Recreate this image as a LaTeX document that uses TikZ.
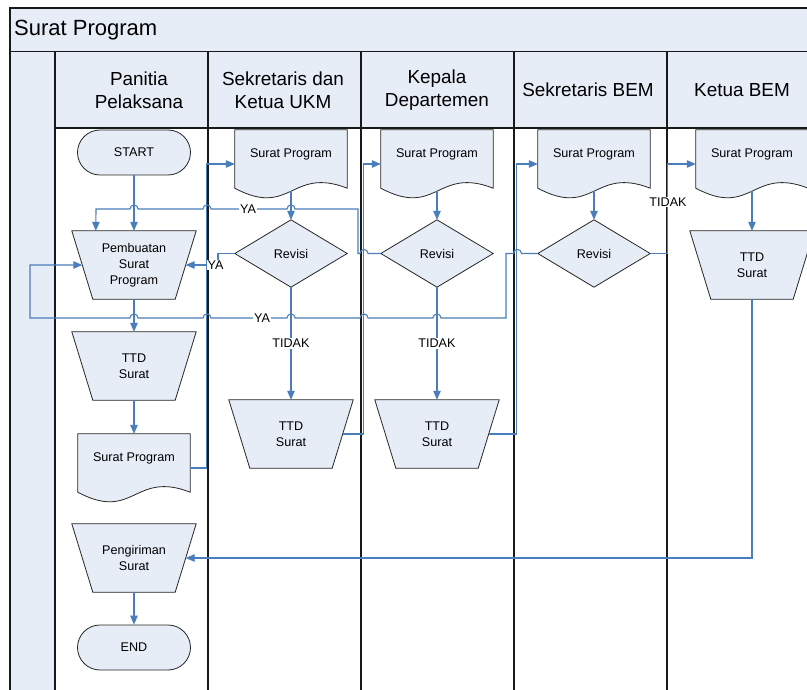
\documentclass[tikz,border=0pt]{standalone}
\usepackage{fontspec}
\setmainfont{Liberation Sans}
\usetikzlibrary{arrows.meta,calc}

\definecolor{lanefill}{HTML}{E7EDF7}
\definecolor{linkblue}{HTML}{4A7EBB}

\pgfdeclarelayer{lanes}
\pgfdeclarelayer{shapes}
\pgfsetlayers{lanes,shapes,main}

\newcommand\nodefont{\fontsize{12.6}{15.8}\selectfont}
\newcommand\headfont{\fontsize{18.9}{23}\selectfont}
\newcommand\titlefont{\fontsize{22}{26}\selectfont}

\tikzset{
  boxnode/.style={inner sep=0pt, align=center, font=\nodefont},
  trapnode/.style={boxnode, minimum width=124pt, minimum height=68pt},
  docnode/.style={boxnode, minimum width=112pt, minimum height=68pt},
  dianode/.style={boxnode, minimum width=112pt, minimum height=67pt},
  termnode/.style={boxnode, draw=black!85, fill=lanefill, line width=0.8pt,
    rounded corners=22.5pt, minimum width=113pt, minimum height=45pt},
  outline/.style={draw=black!85, fill=lanefill, line width=0.8pt},
  link/.style={draw=linkblue, line width=1.1pt, -{Triangle[length=9pt,width=7.5pt]}},
  tag/.style={fill=white, inner sep=1pt, font=\nodefont},
  frameline/.style={draw=black!90, line width=1.8pt},
  laneline/.style={draw=black!90, line width=1.3pt},
  headtext/.style={font=\headfont, align=center, inner sep=0pt},
}

% outlines drawn behind the node texts
\newcommand\trapshape[1]{%
  \begin{pgfonlayer}{shapes}
    \path[outline] (#1.north west) -- (#1.north east)
      -- ([xshift=-21pt]#1.south east) -- ([xshift=21pt]#1.south west) -- cycle;
  \end{pgfonlayer}}
\newcommand\docshape[1]{%
  \begin{pgfonlayer}{shapes}
    \path[outline] (#1.north west) -- (#1.north east) -- ([yshift=10pt]#1.south east)
      .. controls ([yshift=32pt]#1.south) and ([yshift=-20pt]#1.south) ..
      ([yshift=10pt]#1.south west) -- cycle;
  \end{pgfonlayer}}
\newcommand\diashape[1]{%
  \begin{pgfonlayer}{shapes}
    \path[outline] (#1.north) -- (#1.east) -- (#1.south) -- (#1.west) -- cycle;
  \end{pgfonlayer}}
\newcommand\doctext[1]{\raisebox{9.5pt}[\height][\depth]{#1}}

\begin{document}
\begin{tikzpicture}[x=1pt, y=-1pt]
\useasboundingbox (0,0) rectangle (807,690);

% pool frame, title band and lane headers
\begin{pgfonlayer}{lanes}
  \fill[white] (0,0) rectangle (807,690);
  \fill[lanefill] (10,8) rectangle (830,52);
  \fill[lanefill] (10,52) rectangle (55,700);
  \fill[lanefill] (55,52) rectangle (830,128);
  \draw[frameline] (10,700) -- (10,8) -- (830,8);
  \draw[draw=black!90, line width=1pt] (10,52) -- (830,52);
  \draw[frameline] (55,52) -- (55,700);
  \draw[laneline] (55,128) -- (830,128);
  \foreach \x in {208,361,514,667} \draw[laneline] (\x,52) -- (\x,700);
\end{pgfonlayer}

\node[anchor=west, font=\titlefont, inner sep=0pt] (title) at (14,30) {Surat Program};
\node[headtext] (h1) at (139,90) {Panitia\\Pelaksana};
\node[headtext] (h2) at (283,90) {Sekretaris dan\\Ketua UKM};
\node[headtext] (h3) at (437,90) {Kepala\\Departemen};
\node[headtext] (h4) at (588,90) {Sekretaris BEM};
\node[headtext] (h5) at (742,90) {Ketua BEM};

% Panitia Pelaksana
\node[termnode] (start) at (134,152.5) {START};
\node[trapnode] (pemb) at (134,265) {Pembuatan\\Surat\\Program}; \trapshape{pemb}
\node[trapnode] (ttd1) at (134,366) {TTD\\Surat}; \trapshape{ttd1}
\node[docnode] (doc1) at (134,468) {\doctext{Surat Program}}; \docshape{doc1}
\node[trapnode] (peng) at (134,558) {Pengiriman\\Surat}; \trapshape{peng}
\node[termnode] (end) at (134,647.5) {END};

% Sekretaris dan Ketua UKM
\node[docnode] (doc2) at (291,164) {\doctext{Surat Program}}; \docshape{doc2}
\node[dianode] (rev2) at (291,253.5) {Revisi}; \diashape{rev2}
\node[trapnode] (ttd2) at (291,434) {TTD\\Surat}; \trapshape{ttd2}

% Kepala Departemen
\node[docnode] (doc3) at (437,164) {\doctext{Surat Program}}; \docshape{doc3}
\node[dianode] (rev3) at (437,253.5) {Revisi}; \diashape{rev3}
\node[trapnode] (ttd3) at (437,434) {TTD\\Surat}; \trapshape{ttd3}

% Sekretaris BEM
\node[docnode] (doc4) at (594,164) {\doctext{Surat Program}}; \docshape{doc4}
\node[dianode] (rev4) at (594,253.5) {Revisi}; \diashape{rev4}

% Ketua BEM
\node[docnode] (doc5) at (752,164) {\doctext{Surat Program}}; \docshape{doc5}
\node[trapnode] (ttd5) at (752,265) {TTD\\Surat}; \trapshape{ttd5}

% straight flow
\draw[link] (start) -- (pemb);
\draw[link] (pemb) -- (ttd1);
\draw[link] (ttd1) -- (doc1);
\draw[link] (peng) -- (end);
\draw[link] ([yshift=7pt]doc2.south) -- (rev2);
\draw[link] ([yshift=7pt]doc3.south) -- (rev3);
\draw[link] ([yshift=7pt]doc4.south) -- (rev4);
\draw[link] ([yshift=7pt]doc5.south) -- (ttd5);
\draw[link] (rev2) -- node[tag] (t1) {TIDAK} (ttd2);
\draw[link] (rev3) -- node[tag] (t2) {TIDAK} (ttd3);

% hand-overs between lanes
\draw[link] (doc1.east) -| ($(doc2.west)+(-28,0)$) -- (doc2.west);
\draw[link] ($(ttd2.east)+(-10.5,0)$) -| ($(doc3.west)+(-17,0)$) -- (doc3.west);
\draw[link] ($(ttd3.east)+(-10.5,0)$) -| ($(doc4.west)+(-21,0)$) -- (doc4.west);
\draw[link] (rev4.east) -| ($(doc5.west)+(-28,0)$) -- (doc5.west);
\draw[link] (ttd5.south) |- ($(peng.east)+(-10.5,0)$);

% revision loops back to Pembuatan Surat Program
\draw[link] (rev2.west) -- (218,253.5) -- (218,265) -- ($(pemb.east)+(-10.5,0)$);
\draw[link] (rev3.west) -- (368,253.5)
  .. controls (368,248.2) and (360,248.2) .. (360,253.5) -- (358,253.5) -- (358,209)
  -- (295,209) .. controls (295,203.7) and (287,203.7) .. (287,209)
  -- (211,209) .. controls (211,203.7) and (203,203.7) .. (203,209)
  -- (138,209) .. controls (138,203.7) and (130,203.7) .. (130,209)
  -- (96,209) -- ($(pemb.north west)+(24,0)$);
\draw[link] (rev4.west) -- (521.5,253.5)
  .. controls (521.5,248.2) and (513.5,248.2) .. (513.5,253.5) -- (506,253.5) -- (506,318)
  -- (441,318) .. controls (441,312.7) and (433,312.7) .. (433,318)
  -- (368,318) .. controls (368,312.7) and (360,312.7) .. (360,318)
  -- (295,318) .. controls (295,312.7) and (287,312.7) .. (287,318)
  -- (211,318) .. controls (211,312.7) and (203,312.7) .. (203,318)
  -- (138,318) .. controls (138,312.7) and (130,312.7) .. (130,318)
  -- (30,318) -- (30,265) -- ($(pemb.west)+(10.5,0)$);

% connector labels
\node[tag] (y1) at (248,209) {YA};
\node[tag] (y2) at (215.5,265) {YA};
\node[tag] (y3) at (262,318) {YA};
\node[tag] (t3) at (668,202) {TIDAK};
\end{tikzpicture}
\end{document}
